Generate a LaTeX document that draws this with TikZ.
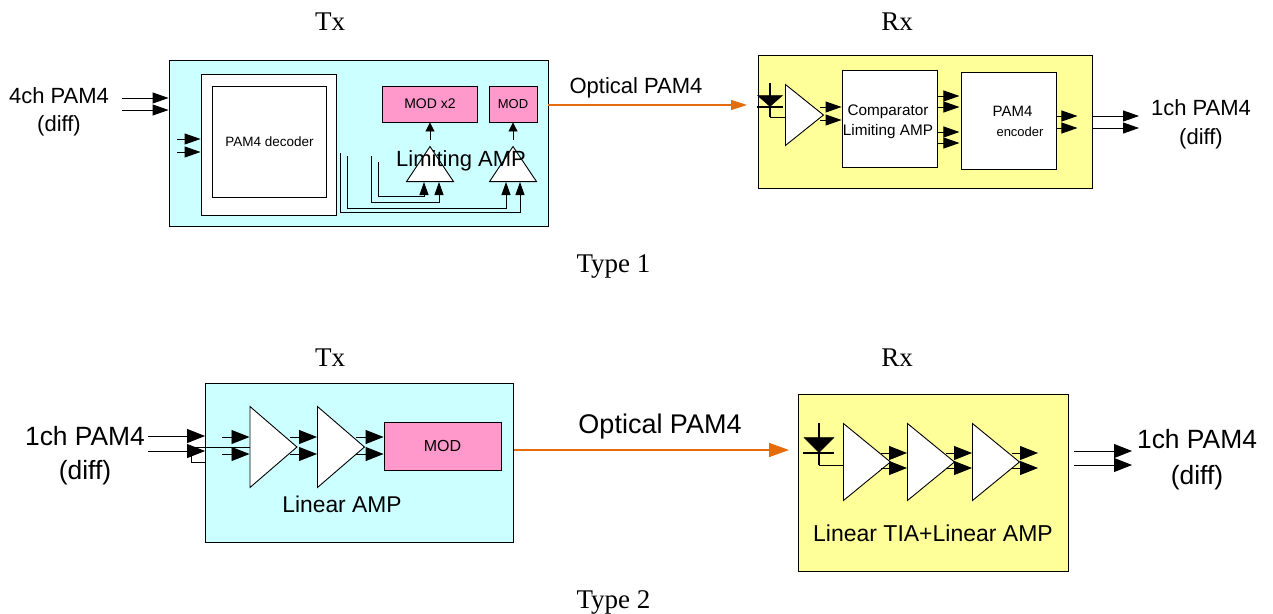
\documentclass[tikz,border=0pt]{standalone}
\usepackage{fontspec}
\setmainfont{Liberation Sans}
\newfontfamily\serifface{Liberation Serif}
\usepackage{xcolor}
\definecolor{cTx}{HTML}{CCFFFF}
\definecolor{cRx}{HTML}{FFFF99}
\definecolor{cMod}{HTML}{FF99CC}
\definecolor{cOpt}{HTML}{E46C0A}
\usetikzlibrary{positioning,arrows.meta,shapes.geometric,calc}
\tikzset{
  node-tx/.style={draw,fill=cTx,line width=.9pt,inner sep=0pt},
  node-rx/.style={draw,fill=cRx,line width=.9pt,inner sep=0pt},
  node-block/.style={draw,fill=white,line width=.9pt,inner sep=0pt},
  node-mod/.style={draw,fill=cMod,line width=.9pt,inner sep=0pt},
  amp/.style={draw,fill=white,line width=.9pt,isosceles triangle,
    isosceles triangle stretches,inner sep=0pt,anchor=lower side},
  amp-up/.style={amp,shape border rotate=90},
  pd/.style={draw,fill=black,isosceles triangle,isosceles triangle stretches,
    shape border rotate=-90,inner sep=0pt,anchor=apex},
  txt-title/.style={font=\serifface\fontsize{27}{27}\selectfont},
  txt-mid/.style={font=\fontsize{22}{24}\selectfont},
  txt-small/.style={font=\fontsize{14}{16}\selectfont},
  wire/.style={line width=.9pt},
  arrow/.style={-{Triangle[length=16pt,width=11pt]},line width=.9pt},
  arrow-up/.style={-{Triangle[length=13pt,width=9pt]},line width=.9pt},
  arrow-mod/.style={-{Triangle[length=9pt,width=9pt]},line width=.9pt},
  arrow-big/.style={-{Triangle[length=18pt,width=14pt]},line width=.9pt},
  arrow-opt/.style={-{Triangle[length=16pt,width=10pt]},line width=1.5pt,draw=cOpt,fill=cOpt},
}
\begin{document}
\begin{tikzpicture}[x=1pt,y=-1pt]
  \useasboundingbox (0,0) rectangle (1273,613);
  % Type 1
  \node[txt-title] (tx1) at (330,22) {Tx};
  \node[txt-title] (rx1) at (897,22) {Rx};
  \node[txt-title] (type1) at (613.5,266) {Type 1};
  \node[node-tx,minimum width=379pt,minimum height=166pt] (tx1box) at (358.5,143) {};
  \node[node-rx,minimum width=334pt,minimum height=133pt] (rx1box) at (925,121.5) {};
  \node[node-block,minimum width=135pt,minimum height=141pt] (decout) at (268.5,144.5) {};
  \node[node-block,minimum width=114pt,minimum height=111pt,font=\fontsize{13.5}{16}\selectfont] (dec) at (269.5,141.5) {PAM4 decoder};
  \node[node-mod,minimum width=95pt,minimum height=36pt,txt-small] (modx) at (430,104) {MOD x2};
  \node[node-mod,minimum width=48pt,minimum height=36pt,font=\fontsize{13}{16}\selectfont] (mod1) at (513,104) {MOD};
  \node[amp-up,minimum width=47pt,minimum height=35pt] (lim1) at (430,182) {};
  \node[amp-up,minimum width=47pt,minimum height=35pt] (lim2) at (513,182) {};
  \node[txt-mid] (limtxt) at (461,161) {Limiting AMP};
  \node[font=\fontsize{22}{28}\selectfont,align=center] (in4) at (59,112) {4ch PAM4\\(diff)};
  \node[font=\fontsize{22}{24}\selectfont] (opt1) at (636,88) {Optical PAM4};
  \node[font=\fontsize{22}{29}\selectfont,align=center] (out1) at (1201,124.5) {1ch PAM4\\(diff)};
  \node[node-block,minimum width=95pt,minimum height=97pt] (comp) at (889.5,118.5) {};
  \node[font=\fontsize{15.3}{20}\selectfont,align=center] (comptxt) at (888,122) {Comparator\\Limiting AMP};
  \node[node-block,minimum width=95pt,minimum height=97pt] (enc) at (1008.5,120.5) {};
  \node[font=\fontsize{15}{18}\selectfont] (enca) at (1012.5,111) {PAM4};
  \node[font=\fontsize{13}{18}\selectfont] (encb) at (1020,131.5) {encoder};
  \node[amp,minimum width=61pt,minimum height=38pt] (ampa) at (785,115) {};
  \node[pd,minimum width=25pt,minimum height=11pt] (pda) at (770,107) {};
  \coordinate (in4a) at (122,98);
  \coordinate (in4b) at (122,110);
  \draw[arrow] (in4a) -- (in4a -| tx1box.west);
  \draw[arrow] (in4b) -- (in4b -| tx1box.west);
  \coordinate (deca) at (177,139);
  \coordinate (decb) at (177,152);
  \draw[arrow] (deca) -- (deca -| decout.west);
  \draw[arrow] (decb) -- (decb -| decout.west);
  \draw[arrow-mod] (lim1.apex) ++(0,-5) -- (modx.south);
  \draw[arrow-mod] (lim2.apex) ++(0,-5) -- (mod1.south);
  % wires from the decoder
  \coordinate (wa) at (340,153);
  \coordinate (wb) at (347,156);
  \coordinate (wc) at (371,156);
  \coordinate (wd) at (378,162);
  \draw[arrow-up] (wd) |- (424,196) -- ++(0,-14);
  \draw[arrow-up] (wc) |- (439,202) -- ++(0,-20);
  \draw[arrow-up] (wb) |- (506,208) -- ++(0,-26);
  \draw[arrow-up] (wa) |- (520,212) -- ++(0,-30);
  \draw[arrow-opt] (tx1box.east |- 0,105) -- (747,105);
  % rx
  \draw[wire] (pda.apex) ++(0,10) -- (785,117);
  \draw[wire,line width=1.8pt] (pda.apex) ++(0,-24) -- ++(0,34);
  \draw[wire,line width=1.8pt] ([xshift=-13pt]pda.apex) -- ([xshift=13pt]pda.apex);
  \coordinate (aa) at (820,107);
  \coordinate (ab) at (820,120);
  \draw[arrow] (aa) -- (aa -| comp.west);
  \draw[arrow] (ab) -- (ab -| comp.west);
  \foreach \yy/\nn in {96/ca,107/cb,132/cc,143/cd} {
    \coordinate (\nn) at (comp.east |- 0,\yy);
    \draw[arrow] (\nn) -- ++(22,0);
  }
  \coordinate (ea) at (enc.east |- 0,116);
  \coordinate (eb) at (enc.east |- 0,128);
  \draw[arrow] (ea) -- ++(21,0);
  \draw[arrow] (eb) -- ++(21,0);
  \coordinate (oa) at (1139,116);
  \coordinate (ob) at (1139,128);
  \draw[arrow] (oa -| rx1box.east) -- (oa);
  \draw[arrow] (ob -| rx1box.east) -- (ob);
  % Type 2
  \node[txt-title] (tx2) at (330,358) {Tx};
  \node[txt-title] (rx2) at (897,358) {Rx};
  \node[txt-title] (type2) at (613.5,602) {Type 2};
  \node[node-tx,minimum width=308pt,minimum height=159pt] (tx2box) at (359.5,462.5) {};
  \node[node-rx,minimum width=270pt,minimum height=177pt] (rx2box) at (933,482.5) {};
  \node[node-mod,minimum width=117pt,minimum height=48pt,font=\fontsize{16}{18}\selectfont] (mod2) at (442.5,446) {MOD};
  \node[amp,minimum width=81pt,minimum height=47pt] (lina) at (249.5,447) {};
  \node[amp,minimum width=81pt,minimum height=47pt] (linb) at (317,447) {};
  \node[font=\fontsize{22.8}{26}\selectfont] (lintxt) at (342,504) {Linear AMP};
  \node[font=\fontsize{26.4}{34}\selectfont,align=center] (in1) at (85,456) {1ch PAM4\\(diff)};
  \node[font=\fontsize{27}{30}\selectfont] (opt2) at (660,427) {Optical PAM4};
  \node[font=\fontsize{26.4}{36}\selectfont,align=center] (out2) at (1197,460) {1ch PAM4\\(diff)};
  \node[amp,minimum width=77pt,minimum height=47pt] (tia) at (843,462) {};
  \node[amp,minimum width=77pt,minimum height=47pt] (rxb) at (907,462) {};
  \node[amp,minimum width=77pt,minimum height=47pt] (rxc) at (972,462) {};
  \node[pd,minimum width=30pt,minimum height=15pt] (pdb) at (819,453) {};
  \node[font=\fontsize{23}{26}\selectfont] (tiatxt) at (933,533) {Linear TIA+Linear AMP};
  \coordinate (ia) at (148,436);
  \coordinate (ib) at (148,451);
  \draw[arrow-big] (ia) -- (ia -| tx2box.west);
  \draw[arrow-big] (ib) -- (ib -| tx2box.west);
  \coordinate (ic) at (194,447);
  \draw[wire] (ic) -- (ic -| lina.lower side);
  \coordinate (id) at (191.5,453);
  \draw[wire] (id) |- (tx2box.west |- 0,462);
  \foreach \yy/\nn in {437/la,454/lb} {
    \coordinate (\nn) at (222,\yy);
    \draw[arrow-big] (\nn) -- (\nn -| lina.lower side);
    \coordinate (\nn m) at (290,\yy);
    \draw[arrow-big] (\nn m) -- (\nn m -| linb.lower side);
    \coordinate (\nn n) at (356,\yy);
    \draw[arrow-big] (\nn n) -- (\nn n -| mod2.west);
  }
  \draw[arrow-opt,-{Triangle[length=20pt,width=14pt]}] (tx2box.east |- 0,450) -- (789,450);
  \coordinate (pdw) at (819,465);
  \draw[wire] (pdw) -- (pdw -| tia.lower side);
  \draw[wire,line width=2pt] (pdb.apex) ++(0,-30) -- (pdw);
  \draw[wire,line width=2pt] ([xshift=-16pt]pdb.apex) -- ([xshift=15pt]pdb.apex);
  \foreach \yy/\nn in {453/ra,468/rb} {
    \coordinate (\nn) at (881,\yy);
    \draw[arrow-big] (\nn) -- (\nn -| rxb.lower side);
    \coordinate (\nn m) at (946,\yy);
    \draw[arrow-big] (\nn m) -- (\nn m -| rxc.lower side);
    \coordinate (\nn n) at (1012,\yy);
    \draw[arrow-big] (\nn n) -- ++(26,0);
  }
  \coordinate (xa) at (1074,451);
  \coordinate (xb) at (1074,465);
  \draw[arrow-big] (xa) -- ++(58,0);
  \draw[arrow-big] (xb) -- ++(58,0);
\end{tikzpicture}
\end{document}
